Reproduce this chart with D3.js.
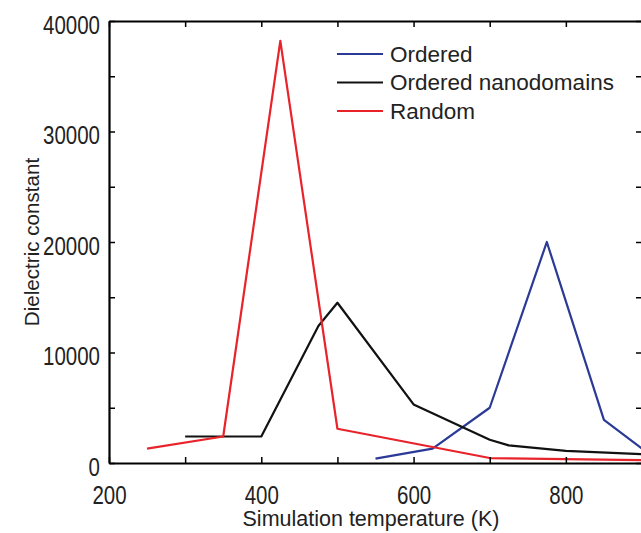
<!DOCTYPE html>
<html>
<head>
<meta charset="utf-8">
<script src="https://cdn.jsdelivr.net/npm/d3@7"></script>
<style>
  body { margin: 0; background: #fff; }
  svg { display: block; font-family: "Liberation Sans", Arial, sans-serif; }
</style>
</head>
<body>
<div id="vis"></div>
<script>
// data
var orderedT = [550, 625, 700, 775, 850, 900];
var orderedV = [400, 1300, 5000, 20000, 3900, 1300];

var nanoT = [300, 400, 475, 500, 600, 700, 725, 800, 900];
var nanoV = [2400, 2400, 12400, 14500, 5300, 2100, 1600, 1100, 800];

var randomT = [250, 350, 425, 500, 700, 900];
var randomV = [1300, 2400, 38200, 3100, 450, 250];

var seriesNames = ["Ordered", "Ordered nanodomains", "Random"];
var seriesColors = ["#2b3a96", "#111111", "#e8232a"];

var xTicks = [200, 300, 400, 500, 600, 700, 800, 900];
var xLabels = [200, 400, 600, 800];
var yTicks = [0, 5000, 10000, 15000, 20000, 25000, 30000, 35000, 40000];
var yLabels = [0, 10000, 20000, 30000, 40000];

var width = 641, height = 533;
var margin = {top: 21, right: -1, bottom: 70, left: 109};
var squeeze = 0.82; // tick labels look condensed

var svg = d3.select("#vis").append("svg")
    .attr("width", width)
    .attr("height", height);

var x = d3.scaleLinear().domain([200, 900]).range([margin.left, width - margin.right]);
var y = d3.scaleLinear().domain([0, 40000]).range([height - margin.bottom, margin.top]);

var series = [
  {name: seriesNames[0], color: seriesColors[0], pts: d3.zip(orderedT, orderedV)},
  {name: seriesNames[1], color: seriesColors[1], pts: d3.zip(nanoT, nanoV)},
  {name: seriesNames[2], color: seriesColors[2], pts: d3.zip(randomT, randomV)}
];

var line = d3.line()
    .x(function(d) { return x(d[0]); })
    .y(function(d) { return y(d[1]); });

// lines
svg.append("g").selectAll("path")
  .data(series)
  .enter().append("path")
    .attr("d", function(d) { return line(d.pts); })
    .attr("fill", "none")
    .attr("stroke", function(d) { return d.color; })
    .attr("stroke-width", 2.2)
    .attr("stroke-linejoin", "round");

// axes (ticks point inward)
svg.append("g")
    .attr("transform", "translate(0," + y(0) + ")")
    .call(d3.axisBottom(x).tickValues(xTicks).tickSizeInner(-6).tickSizeOuter(0)
      .tickFormat(function(d) { return xLabels.indexOf(d) >= 0 ? d : ""; }))
    .call(function(g) {
      g.select(".domain").attr("stroke-width", 2.2);
      g.selectAll(".tick line").attr("stroke-width", 1.5);
      g.selectAll(".tick text")
        .attr("font-size", 25)
        .attr("y", 41).attr("dy", 0)
        .attr("transform", "scale(" + squeeze + ",1)")
        .attr("fill", "#222");
    });

svg.append("g")
    .attr("transform", "translate(0," + y(40000) + ")")
    .call(d3.axisTop(x).tickValues(xTicks).tickSizeInner(-6).tickSizeOuter(0).tickFormat(""))
    .call(function(g) {
      g.select(".domain").attr("stroke-width", 2);
      g.selectAll(".tick line").attr("stroke-width", 1.5);
    });

svg.append("g")
    .attr("transform", "translate(" + margin.left + ",0)")
    .call(d3.axisLeft(y).tickValues(yTicks).tickSizeInner(-6).tickSizeOuter(0)
      .tickFormat(function(d) { return yLabels.indexOf(d) >= 0 ? d : ""; }))
    .call(function(g) {
      g.select(".domain").attr("stroke-width", 2.2);
      g.selectAll(".tick line").attr("stroke-width", 1.5);
      g.selectAll(".tick text")
        .attr("font-size", 25)
        .attr("x", -9 / squeeze)
        .attr("dy", "0.48em")
        .attr("transform", "scale(" + squeeze + ",1)")
        .attr("fill", "#222");
    });

svg.append("g")
    .attr("transform", "translate(" + x(900) + ",0)")
    .call(d3.axisRight(y).tickValues(yTicks).tickSizeInner(-6).tickSizeOuter(0).tickFormat(""))
    .call(function(g) {
      g.select(".domain").attr("stroke-width", 2);
      g.selectAll(".tick line").attr("stroke-width", 1.5);
    });

// axis titles
svg.append("text")
    .attr("x", 371)
    .attr("y", 526)
    .attr("text-anchor", "middle")
    .attr("font-size", 21.5)
    .attr("fill", "#222")
    .text("Simulation temperature (K)");

svg.append("text")
    .attr("transform", "translate(39," + ((y(0) + y(40000)) / 2) + ") rotate(-90)")
    .attr("text-anchor", "middle")
    .attr("font-size", 20.6)
    .attr("fill", "#222")
    .text("Dielectric constant");

// legend
var legend = svg.append("g")
    .attr("transform", "translate(337,54)")
  .selectAll("g")
  .data(series)
  .enter().append("g")
    .attr("transform", function(d, i) { return "translate(0," + i * 28.5 + ")"; });

legend.append("line")
    .attr("x1", 0).attr("x2", 46)
    .attr("stroke", function(d) { return d.color; })
    .attr("stroke-width", 2.2);

legend.append("text")
    .attr("x", 53)
    .attr("dy", "0.35em")
    .attr("font-size", 22.5)
    .attr("fill", "#222")
    .text(function(d) { return d.name; });
</script>
</body>
</html>
